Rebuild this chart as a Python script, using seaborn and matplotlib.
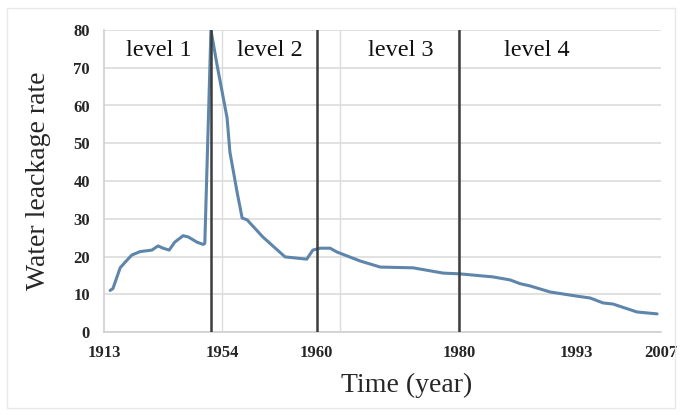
import matplotlib
matplotlib.use("Agg")
import matplotlib.pyplot as plt
import seaborn as sns
import pandas as pd
from matplotlib.patches import Rectangle

# position along the time axis (0-100, as laid out in the original) and leakage rate
position = [1.1, 1.6, 2.9, 3.8, 5.0, 6.5, 8.6, 9.7, 10.6, 11.7, 12.7, 14.2, 15.1,
            16.7, 17.8, 18.1, 19.2, 20.3, 22.1, 22.6, 23.9, 24.8, 25.7, 28.5,
            32.5, 36.4, 37.5, 38.8, 40.6, 41.8, 46.0, 49.6, 55.5, 60.9, 63.9,
            69.8, 72.9, 74.7, 76.5, 80.1, 84.9, 87.3, 89.6, 91.4, 95.7, 99.3]
rate = [11.0, 11.5, 17.0, 18.5, 20.4, 21.3, 21.7, 22.8, 22.2, 21.7, 23.8, 25.5, 25.2,
        23.8, 23.2, 23.5, 80.0, 70.7, 56.7, 47.7, 37.0, 30.2, 29.7, 25.2,
        19.9, 19.3, 21.7, 22.2, 22.2, 21.2, 18.8, 17.2, 17.0, 15.6, 15.4,
        14.6, 13.8, 12.8, 12.2, 10.6, 9.5, 9.0, 7.7, 7.4, 5.3, 4.8]

tick_pos = [0, 21.3, 38.1, 63.7, 84.8, 100]
tick_labels = ["1913", "1954", "1960", "1980", "1993", "2007"]
grid_pos = [21.2, 42.4, 63.6, 84.8]
level_bounds = [19.2, 38.2, 63.7]
level_names = ["level 1", "level 2", "level 3", "level 4"]
level_text_pos = [9.8, 29.8, 53.3, 77.7]
y_ticks = [0, 10, 20, 30, 40, 50, 60, 70, 80]

sns.set_style("white")
plt.rcParams["font.family"] = ["Liberation Serif", "DejaVu Serif"]

df = pd.DataFrame({"pos": position, "rate": rate})

fig = plt.figure(figsize=(6.82, 4.15), dpi=100)
ax = fig.add_axes([104/682, 1-332/415, (661-104)/682, (332-30)/415])

sns.lineplot(data=df, x="pos", y="rate", ax=ax, color="#5e86aa", linewidth=2.2, zorder=3)

ax.set_xlim(0, 100)
ax.set_ylim(0, 80)
ax.set_yticks(y_ticks)
ax.set_yticklabels([str(v) for v in y_ticks], fontsize=12, fontweight="bold")
ax.set_xticks(tick_pos)
ax.set_xticklabels(tick_labels, fontsize=12, fontweight="bold")
ax.set_xticks(grid_pos, minor=True)
ax.tick_params(axis="both", which="both", length=0)
ax.tick_params(axis="y", pad=10)
ax.tick_params(axis="x", pad=9)
ax.grid(axis="y", color="#dcdcdc", linewidth=1.2)
ax.grid(axis="x", which="minor", color="#dcdcdc", linewidth=1.0)
ax.grid(axis="x", which="major", visible=False)
ax.set_xlabel("")
ax.set_ylabel("")

for s in ["top", "right"]:
    ax.spines[s].set_visible(False)
for s in ["left", "bottom"]:
    ax.spines[s].set_color("#d0d0d0")
    ax.spines[s].set_linewidth(1.2)

for b in level_bounds:
    ax.axvline(b, color="#3d3d3d", linewidth=1.8, zorder=4)

for name, p in zip(level_names, level_text_pos):
    ax.text(p, 74.5, name, ha="center", va="center", fontsize=17.5, color="#111111")

fig.text(407/682, 1-385/415, "Time (year)", ha="center", va="center", fontsize=20)
fig.text(39/682, 1-181/415, "Water leackage rate", ha="center", va="center",
         rotation=90, fontsize=20)

fig.patches.append(Rectangle((7/682, 7/415), 668/682, 400/415, transform=fig.transFigure,
                             fill=False, edgecolor="#e8e8e8", linewidth=1.0))

fig.savefig("out.png", dpi=100)
